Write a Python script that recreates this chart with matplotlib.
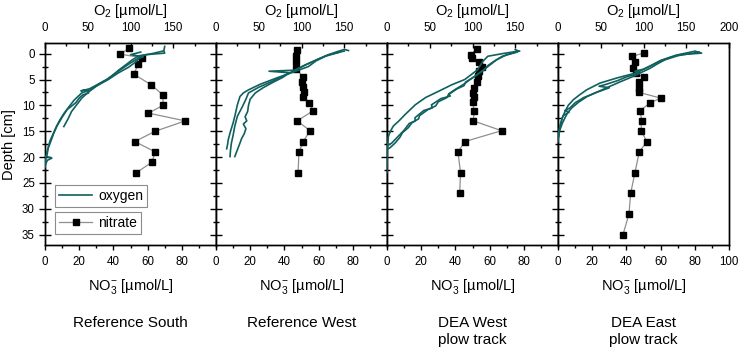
import matplotlib
matplotlib.use('Agg')
import matplotlib.pyplot as plt
from matplotlib.ticker import MultipleLocator, FixedLocator
from matplotlib.lines import Line2D

plt.rcParams['font.family'] = ['Liberation Sans', 'DejaVu Sans']
plt.rcParams['mathtext.fontset'] = 'custom'
plt.rcParams['mathtext.rm'] = 'Liberation Sans'
plt.rcParams['mathtext.it'] = 'Liberation Sans:italic'
plt.rcParams['mathtext.default'] = 'regular'

# ---------------- data ----------------
panel_titles = ['Reference South', 'Reference West', 'DEA West\nplow track', 'DEA East\nplow track']

# nitrate (NO3- umol/L) vs depth (cm)
s_no3_depth = [-1.0, 0.1, 0.8, 2.0, 4.0, 6.0, 8.0, 10.0, 11.5, 13.0, 15.0, 17.0, 19.0, 21.0, 23.0]
s_no3 = [49, 44, 57, 54.5, 52, 62, 69, 69, 60.5, 82, 64.5, 52.5, 64.5, 62.5, 53.5]

w_no3_depth = [-0.8, 0.4, 1.7, 2.9, 4.5, 5.5, 6.5, 7.5, 8.4, 9.6, 11.0, 13.0, 14.9, 17.0, 19.0, 23.0]
w_no3 = [47.5, 46.6, 46.6, 47, 50.7, 50.1, 50.7, 51.5, 51.1, 54.5, 57, 47.5, 55, 51, 48.5, 48]

dw_no3_depth = [-0.9, 0.2, 0.8, 1.7, 2.6, 3.4, 4.3, 5.5, 6.6, 7.6, 8.4, 9.4, 11.0, 13.0, 14.9, 17.0, 19.0, 23.0, 27.0]
dw_no3 = [52.5, 49, 49.5, 54, 55.5, 54, 53, 52.5, 51, 50, 51, 50, 51, 50.5, 67, 45.5, 41.5, 43, 42.5]

de_no3_depth = [-0.1, 0.5, 1.7, 2.8, 3.7, 4.6, 5.5, 6.6, 7.5, 8.6, 9.5, 11.0, 13.0, 14.9, 17.0, 19.0, 23.0, 27.0, 31.0, 35.0]
de_no3 = [50, 43.5, 45, 44, 45.5, 50, 47.5, 47.5, 47.5, 60, 54, 48, 49, 48.5, 52, 47.5, 45, 42.5, 41.5, 38]

# oxygen (O2 umol/L) profiles vs depth (cm), three profiles per site
s_o2a_depth = [-1.4, -0.6, -0.1, 0.2, 0.6, 1.2, 2.1, 3.2, 4.7, 5.8, 7.0, 7.6, 9.0, 10.5, 11.6, 12.8, 14.2, 15.7, 16.8, 17.9, 19.0, 19.9, 20.2, 20.6, 21.2, 21.8]
s_o2a = [140, 139, 140, 118, 108, 102, 95, 86, 76, 64, 53, 43, 34, 27, 22, 17.5, 13, 9, 6, 4, 3, 2, 8, 3, 1, 0]
s_o2b_depth = [-0.5, 0.0, 0.4, 0.9, 1.5, 2.6, 3.7, 5.0, 6.3, 7.4, 8.6, 9.9, 11.2, 12.6, 14.1]
s_o2b = [138, 125, 112, 110, 107, 98, 86, 74, 60, 51, 43, 37, 31, 27, 22]
s_o2c_depth = [-0.3, 0.2, 0.6, 1.0, 1.8, 2.8, 3.8, 5.0, 6.0, 6.8, 7.2, 7.0, 7.6, 8.0, 8.6, 9.5, 10.8, 12.3, 14.0, 15.5, 17.3, 18.6, 19.9, 21.0, 22.0]
s_o2c = [112, 100, 115, 108, 100, 91, 82, 72, 61, 52, 42, 50, 51, 44, 40, 36, 26, 20, 14, 10, 6, 3, 1, 0.5, 0]

w_o2a_depth = [-0.6, -0.8, -0.4, 0.3, 1.2, 2.2, 3.2, 3.4, 3.7, 4.6, 5.6, 6.6, 7.6, 8.8, 10.0, 11.2, 12.2, 13.0, 13.6, 14.5, 15.5, 16.4, 17.3, 18.6, 19.9]
w_o2a = [155, 150, 142, 130, 118, 104, 92, 62, 86, 78, 66, 55, 46, 40, 38, 37, 34, 36, 32, 35, 33, 30, 28, 25, 22]
w_o2b_depth = [-0.5, 0.2, 1.0, 2.0, 3.0, 4.2, 5.4, 6.5, 7.6, 8.8, 10.2, 12.1, 14.0, 15.8, 17.3, 18.6, 19.9]
w_o2b = [150, 132, 120, 107, 95, 80, 65, 50, 38, 35, 31, 25, 22, 20, 18, 17, 16.4]
w_o2c_depth = [-0.3, 0.5, 1.4, 2.5, 3.6, 4.7, 5.9, 7.0, 7.6, 8.3, 9.9, 12.1, 13.4, 15.0, 16.6, 17.6, 18.4]
w_o2c = [145, 128, 117, 108, 90, 71, 52, 38, 32, 28, 25, 22, 20, 17, 14.4, 13.5, 12.5]

dw_o2a_depth = [-0.8, -0.5, 0.0, 0.5, 1.5, 3.1, 5.0, 6.0, 7.3, 8.5, 9.9, 11.8, 13.0, 14.0, 15.0, 16.0, 18.6, 20.0, 22.0, 23.0]
dw_o2a = [150, 154, 135, 118, 112, 106, 91, 76, 60, 45, 33, 21, 14, 7.4, 4, 1.6, 0.5, 0.3, 0, 0]
dw_o2b_depth = [-0.5, 0.2, 1.2, 2.5, 3.5, 4.4, 5.5, 6.2, 6.8, 7.9, 8.5, 9.3, 10.1, 10.8, 12.0, 12.6, 13.4, 14.3, 15.3, 16.2, 17.3, 18.2, 18.5]
dw_o2b = [155, 140, 128, 118, 110, 103, 92, 90, 82, 72, 70, 60, 57, 48, 38, 37, 29, 25, 18, 15, 9.4, 3.5, 0]
dw_o2c_depth = [-0.3, 0.5, 1.5, 2.3, 3.1, 4.2, 5.0, 5.9, 7.0, 7.8, 8.2, 8.7, 9.9, 10.5, 11.0, 12.4, 13.0, 13.5, 14.8, 16.0, 17.3, 17.8]
dw_o2c = [152, 135, 125, 118, 114, 104, 97, 90, 79, 72, 74, 63, 52, 53, 43, 32.7, 33, 26, 20, 13, 5.5, 0]

de_o2a_depth = [-0.5, -0.1, 0.2, 0.8, 1.8, 2.8, 3.7, 4.7, 5.7, 7.0, 8.0, 8.9, 10.0, 11.2, 12.4, 13.7, 15.0, 16.0]
de_o2a = [160, 168, 143, 130, 115, 103, 92, 69, 49, 33.5, 25, 18, 12, 8.2, 5, 3.1, 1.5, 0.4]
de_o2b_depth = [-0.3, 0.4, 1.2, 2.0, 2.8, 3.6, 4.4, 5.5, 6.6, 7.4, 8.3, 9.4, 10.5, 11.5, 12.4, 13.5, 14.7, 16.6]
de_o2b = [165, 140, 125, 116, 108, 98, 88, 72, 57, 46, 34, 24, 16, 11, 8.2, 5, 2.3, 0]
de_o2c_depth = [-0.4, 0.3, 1.3, 2.2, 3.0, 3.4, 3.8, 4.5, 5.2, 6.0, 6.3, 6.6, 7.5, 8.5, 9.5, 10.5, 11.0, 11.3, 12.0, 13.5, 15.0, 17.0]
de_o2c = [158, 138, 120, 110, 100, 90, 95, 80, 70, 55, 48, 60, 45, 30, 20, 14, 8, 13, 6, 3, 1, 0]

no3_sets = [(s_no3, s_no3_depth), (w_no3, w_no3_depth), (dw_no3, dw_no3_depth), (de_no3, de_no3_depth)]
o2_sets = [
    [(s_o2a, s_o2a_depth), (s_o2b, s_o2b_depth), (s_o2c, s_o2c_depth)],
    [(w_o2a, w_o2a_depth), (w_o2b, w_o2b_depth), (w_o2c, w_o2c_depth)],
    [(dw_o2a, dw_o2a_depth), (dw_o2b, dw_o2b_depth), (dw_o2c, dw_o2c_depth)],
    [(de_o2a, de_o2a_depth), (de_o2b, de_o2b_depth), (de_o2c, de_o2c_depth)],
]

# ---------------- layout ----------------
W, H = 743, 349
fig = plt.figure(figsize=(W / 100, H / 100), dpi=100)

O2_COLOR = '#10605f'
NO3_LINE = '#8f8f8f'
AX_LEFT = 45
AX_W = 171
AX_TOP = 43.3
AX_BOT = 245

for i in range(4):
    rect = [(AX_LEFT + AX_W * i) / W, 1 - AX_BOT / H, AX_W / W, (AX_BOT - AX_TOP) / H]
    ax = fig.add_axes(rect)
    ax.set_xlim(0, 100)
    ax.set_ylim(37, -2)

    no3, no3_d = no3_sets[i]
    ax.plot(no3, no3_d, color=NO3_LINE, lw=0.9, marker='s', ms=4.7,
            mfc='black', mec='black', zorder=3)

    ax2 = ax.twiny()
    ax2.set_xlim(0, 200)
    for o2, o2_d in o2_sets[i]:
        ax2.plot(o2, o2_d, color=O2_COLOR, lw=1.2, zorder=4)

    # ticks
    last = (i == 3)
    ax.xaxis.set_major_locator(FixedLocator([0, 20, 40, 60, 80, 100] if last else [0, 20, 40, 60, 80]))
    ax.xaxis.set_minor_locator(MultipleLocator(10))
    ax2.xaxis.set_major_locator(FixedLocator([0, 50, 100, 150, 200] if last else [0, 50, 100, 150]))
    ax2.xaxis.set_minor_locator(MultipleLocator(25))
    ax.yaxis.set_major_locator(MultipleLocator(5))
    ax.yaxis.set_minor_locator(MultipleLocator(2.5))

    ax.tick_params(axis='x', which='major', direction='out', length=3.6, width=1.0,
                   pad=4.0, labelsize=8.3, top=False)
    ax.tick_params(axis='x', which='minor', direction='out', length=2.2, width=1.0, top=False)
    ax.tick_params(axis='y', which='major', direction='inout', length=8.6, width=1.0,
                   pad=3.0, labelsize=8.3, right=False, labelleft=(i == 0))
    ax.tick_params(axis='y', which='minor', direction='inout', length=5.0, width=1.0, right=False)
    ax2.tick_params(axis='x', which='major', direction='in', length=3.6, width=1.0,
                    pad=6.5, labelsize=8.3)
    ax2.tick_params(axis='x', which='minor', direction='in', length=2.2, width=1.0)

    for a in (ax, ax2):
        for sp in a.spines.values():
            sp.set_linewidth(1.0)

    ax.set_xlabel(r'NO$_3^{-}$ [µmol/L]', fontsize=10.5, labelpad=7)
    ax2.set_xlabel(r'O$_2$ [µmol/L]', fontsize=10.5, labelpad=5)

    if i == 0:
        ax.set_ylabel('Depth [cm]', fontsize=10.5, labelpad=4)
        h_o2 = Line2D([], [], color=O2_COLOR, lw=1.2)
        h_no3 = Line2D([], [], color=NO3_LINE, lw=0.9, marker='s', ms=4.7,
                       mfc='black', mec='black')
        common = dict(loc='upper left', fontsize=10, fancybox=False, framealpha=1,
                      edgecolor='#8c8c8c', borderpad=0.3, handlelength=2.4,
                      handletextpad=0.4, borderaxespad=0)
        leg1 = ax2.legend([h_o2], ['oxygen'], bbox_to_anchor=(0.058, 0.297), **common)
        leg1.get_frame().set_linewidth(0.8)
        ax2.add_artist(leg1)
        leg2 = ax2.legend([h_no3], ['nitrate'], bbox_to_anchor=(0.058, 0.165), **common)
        leg2.get_frame().set_linewidth(0.8)

    cx = (AX_LEFT + AX_W * i + AX_W / 2) / W
    fig.text(cx, 1 - 316 / H, panel_titles[i], ha='center', va='top',
             multialignment='center', fontsize=11, linespacing=1.3)

fig.savefig('out.png', dpi=100)
